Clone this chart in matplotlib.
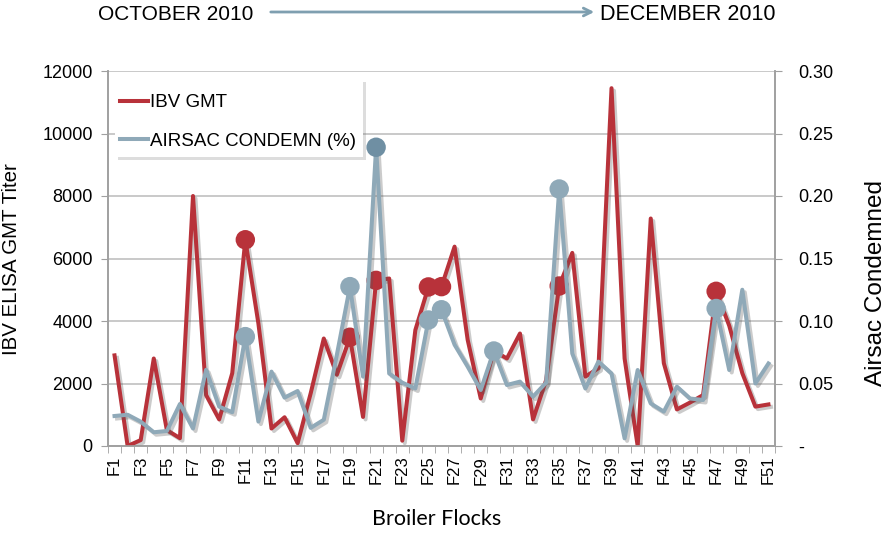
import matplotlib
matplotlib.use("Agg")
import matplotlib.pyplot as plt
import matplotlib.patheffects as pe
from matplotlib.patches import Rectangle, FancyArrowPatch
import numpy as np

flocks = [f"F{i}" for i in range(1, 52)]
ibv_gmt = [2900, 0, 190, 2800, 510, 250, 8000, 1630, 850, 2330,
           6600, 3920, 560, 920, 90, 1690, 3440, 2280, 3480, 930,
           5300, 5360, 170, 3710, 5090, 5100, 6380, 3400, 1520, 3050,
           2800, 3600, 850, 2110, 5120, 6180, 2220, 2490, 11450, 2800,
           0, 7280, 2650, 1170, 1390, 1630, 4950, 3850, 2330, 1260, 1330]
airsac = [0.024, 0.025, 0.0195, 0.011, 0.012, 0.0336, 0.014, 0.061, 0.0315, 0.027,
          0.0875, 0.0195, 0.0595, 0.0387, 0.044, 0.0145, 0.021, 0.073, 0.1275, 0.0555,
          0.239, 0.058, 0.0507, 0.046, 0.1008, 0.109, 0.081, 0.0635, 0.0448, 0.076,
          0.0488, 0.0515, 0.0395, 0.0507, 0.2056, 0.074, 0.046, 0.0675, 0.058, 0.0061,
          0.0608, 0.034, 0.0275, 0.0475, 0.038, 0.0368, 0.110, 0.0608, 0.125, 0.050, 0.066]
red_marked = ["F11", "F19", "F21", "F25", "F26", "F35", "F47"]
blue_marked = ["F11", "F19", "F21", "F25", "F26", "F30", "F35", "F47"]
left_ticks = [0, 2000, 4000, 6000, 8000, 10000, 12000]
right_ticks = [0, 0.05, 0.10, 0.15, 0.20, 0.25, 0.30]
right_labels = ["-", "0.05", "0.10", "0.15", "0.20", "0.25", "0.30"]

RED = "#B8323A"
BLUE = "#8FA9B8"
BLUE_DARK = "#6F8FA3"
GRID = "#C0C0C0"
SPINE = "#A0A0A0"

plt.rcParams['font.family'] = ['Liberation Sans', 'DejaVu Sans']

W, H = 889, 533
fig = plt.figure(figsize=(W / 100, H / 100), dpi=100)
ax = fig.add_axes([108 / W, 1 - 446 / H, 667 / W, 375 / H])
ax2 = ax.twinx()

x = np.arange(len(flocks))
shadow = [pe.SimpleLineShadow(offset=(1.8, -1.8), alpha=0.3, shadow_color="#555555"), pe.Normal()]

ax.plot(x, ibv_gmt, color=RED, lw=2.9, path_effects=shadow, zorder=3, label="IBV GMT")
ri = [flocks.index(f) for f in red_marked]
ax.plot(x[ri], [ibv_gmt[i] for i in ri], 'o', color=RED, ms=14, mew=0, zorder=4,
        path_effects=shadow)

ax2.plot(x, airsac, color=BLUE, lw=2.9, path_effects=shadow, zorder=3, label="AIRSAC CONDEMN (%)")
bi = [flocks.index(f) for f in blue_marked]
for i in bi:
    c = BLUE_DARK if flocks[i] == "F21" else BLUE
    ax2.plot([x[i]], [airsac[i]], 'o', color=c, ms=14, mew=0, zorder=4, path_effects=shadow)

ax.set_xlim(-0.5, len(flocks) - 0.5)
ax.set_ylim(0, 12000)
ax2.set_ylim(0, 0.30)
ax.set_yticks(left_ticks)
ax.set_yticklabels([str(t) for t in left_ticks], fontsize=13)
ax2.set_yticks(right_ticks)
ax2.set_yticklabels(right_labels, fontsize=13)

ax.set_xticks(x[::2])
ax.set_xticklabels(flocks[::2], rotation=90, fontsize=12)
ax.set_xticks(np.arange(-0.5, len(flocks), 1), minor=True)
ax.tick_params(axis='x', which='major', length=0, pad=7)
ax.tick_params(axis='x', which='minor', length=5, color=SPINE, direction='out')
ax.tick_params(axis='y', length=5, color=SPINE, pad=6)
ax2.tick_params(axis='y', length=5, color=SPINE, pad=12)

ax.grid(axis='y', color=GRID, lw=1.2)
ax.set_axisbelow(True)
for a in (ax, ax2):
    a.spines['top'].set_visible(False)
    for s in ('left', 'right', 'bottom'):
        a.spines[s].set_color(SPINE)
        a.spines[s].set_linewidth(1.2)

fig.text(12 / W, 1 - 259 / H, "IBV ELISA GMT Titer", fontsize=14.8, rotation=90,
         ha='center', va='center')
fig.text(876 / W, 1 - 283 / H, "Airsac Condemned", fontsize=17.5, rotation=90,
         ha='center', va='center')
fig.text(437 / W, 1 - 519 / H, "Broiler Flocks", fontsize=15.5,
         family=['Lato', 'DejaVu Sans'], ha='center', va='center')

# legend box
box = Rectangle((115 / W, 1 - 157 / H), 248 / W, 78 / H, transform=fig.transFigure,
                facecolor='white', edgecolor='none', zorder=9,
                path_effects=[pe.SimplePatchShadow(offset=(2.5, -2.5), alpha=0.22, shadow_rgbFace="#666666"),
                              pe.Normal()])
ax2.add_artist(box)
h1, l1 = ax.get_legend_handles_labels()
h2, l2 = ax2.get_legend_handles_labels()
leg = ax2.legend(h1 + h2, l1 + l2, loc='upper left',
                 bbox_to_anchor=(120.5 / W, 1 - 94 / H), bbox_transform=fig.transFigure,
                 fontsize=13.5, frameon=False, borderpad=0, borderaxespad=0,
                 handlelength=1.47, handletextpad=0.12, labelspacing=1.15)
leg.set_zorder(10)
for ln in leg.get_lines():
    ln.set_path_effects([])

fig.text(98 / W, 1 - 14 / H, "OCTOBER 2010", fontsize=15, va='center', ha='left')
fig.text(600 / W, 1 - 14 / H, "DECEMBER 2010", fontsize=15.5, va='center', ha='left')
fig.patches.append(FancyArrowPatch(
    (268 / W, 1 - 12 / H), (597 / W, 1 - 12 / H), transform=fig.transFigure,
    arrowstyle='->', mutation_scale=14, color="#7F9FB0", lw=2))

fig.savefig("out.png", dpi=100)
